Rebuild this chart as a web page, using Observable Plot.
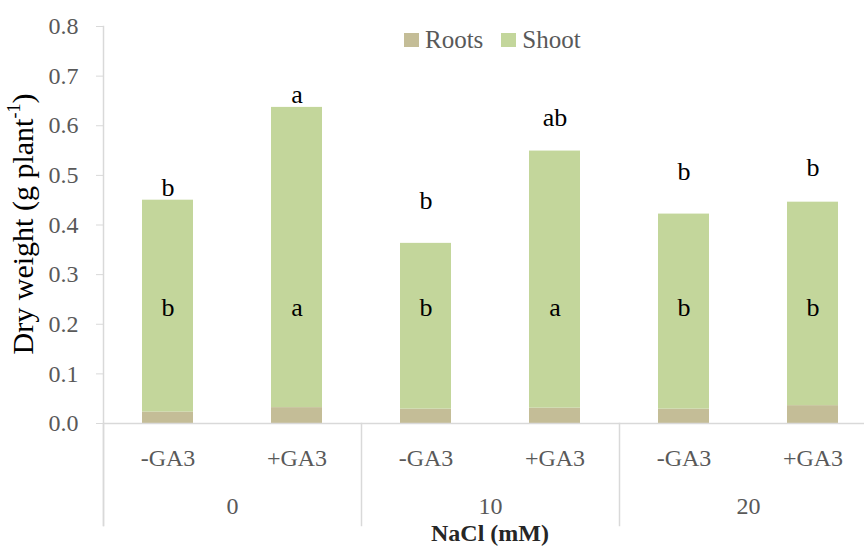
<!DOCTYPE html>
<html>
<head>
<meta charset="utf-8">
<script src="https://cdn.jsdelivr.net/npm/d3@7"></script>
<script src="https://cdn.jsdelivr.net/npm/@observablehq/plot@0.6"></script>
<style>
  html, body { margin: 0; padding: 0; background: #fff; overflow: hidden; }
  #wrap { position: relative; width: 864px; height: 546px; overflow: hidden; font-family: "Liberation Serif", serif; }
  #chart svg { max-width: none !important; }
  #legend { position: absolute; top: 26px; left: 404px; display: flex; align-items: center; font-size: 25px; color: #595959; line-height: 28px; }
  #legend .item { display: flex; align-items: center; margin-right: 18px; }
  #legend .sw { display: inline-block; width: 15px; height: 14px; margin-right: 6px; }
  #ylab { position: absolute; left: 23px; top: 224px; transform: translate(-50%, -50%) rotate(-90deg); white-space: nowrap; font-size: 30px; color: #000; }
  #ylab sup { font-size: 0.6em; vertical-align: 0.7em; line-height: 0; }
  #xlab { position: absolute; left: 490px; top: 521px; transform: translateX(-50%); white-space: nowrap; font-size: 24px; line-height: 24px; font-weight: bold; color: #262626; }
</style>
</head>
<body>
<div id="wrap">
  <div id="chart"></div>
  <div id="legend"></div>
  <div id="ylab">Dry weight (g plant<sup>-1</sup>)</div>
  <div id="xlab">NaCl (mM)</div>
</div>
<script>
// ---- data ----
const groups = ["0", "10", "20"];
const treatments = ["-GA3", "+GA3"];
const nacl = ["0", "0", "10", "10", "20", "20"];
const ga3 = ["-GA3", "+GA3", "-GA3", "+GA3", "-GA3", "+GA3"];
const roots = [0.023, 0.032, 0.029, 0.031, 0.029, 0.036];
const shoot = [0.427, 0.605, 0.334, 0.518, 0.393, 0.410];
const totalLetters = ["b", "a", "b", "ab", "b", "b"];
const totalLetterY = [0.476, 0.662, 0.449, 0.617, 0.508, 0.516];
const shootLetters = ["b", "a", "b", "a", "b", "b"];
const shootLetterY = [0.234, 0.234, 0.234, 0.234, 0.234, 0.234];
const series = ["Roots", "Shoot"];
const colors = ["#c4bd97", "#c3d69b"];
const yTicks = [0, 0.1, 0.2, 0.3, 0.4, 0.5, 0.6, 0.7, 0.8];

// ---- tables ----
const rows = [];
nacl.forEach((n, i) => {
  rows.push({nacl: n, ga3: ga3[i], part: "Roots", value: roots[i]});
  rows.push({nacl: n, ga3: ga3[i], part: "Shoot", value: shoot[i]});
});
const labels = nacl.map((n, i) => ({
  nacl: n, ga3: ga3[i],
  top: totalLetters[i], topY: totalLetterY[i],
  mid: shootLetters[i], midY: shootLetterY[i]
}));

// ---- layout ----
const W = 877, H = 546, mT = 26, mB = 123, mL = 103;
const grid = "#d9d9d9", tickText = "#595959", font = "Liberation Serif, serif";

const chart = Plot.plot({
  width: W, height: H,
  marginTop: mT, marginBottom: mB, marginLeft: mL, marginRight: 0,
  facet: {marginTop: 0, marginBottom: 0, marginLeft: 0, marginRight: 0},
  style: {fontFamily: font, background: "white", overflow: "visible", maxWidth: "none"},
  fx: {domain: groups, padding: 0, label: null},
  x: {domain: treatments, paddingInner: 0.605, paddingOuter: 0.3025, label: null},
  y: {domain: [0, 0.8], label: null},
  color: {domain: series, range: colors},
  marks: [
    Plot.barY(rows, Plot.stackY({fx: "nacl", x: "ga3", y: "value", fill: "part", order: series})),
    Plot.ruleY([0], {stroke: grid, strokeWidth: 1.5}),
    Plot.text(labels, {fx: "nacl", x: "ga3", y: "topY", text: "top", fill: "black", fontSize: 26, fontFamily: font, lineAnchor: "middle"}),
    Plot.text(labels, {fx: "nacl", x: "ga3", y: "midY", text: "mid", fill: "black", fontSize: 26, fontFamily: font, lineAnchor: "middle"}),
    Plot.axisY({ticks: yTicks, tickFormat: d => d.toFixed(1), tickSize: 7, tickPadding: 18, stroke: grid, fill: tickText, fontSize: 24, fontFamily: font, label: null}),
    Plot.axisX({tickSize: 0, tickPadding: 25, fill: tickText, fontSize: 24, fontFamily: font, label: null}),
    Plot.axisFx({anchor: "bottom", tickSize: 0, tickPadding: 73, fill: tickText, fontSize: 24, fontFamily: font, label: null}),
    Plot.frame({anchor: "left", facetAnchor: "left", stroke: grid, strokeWidth: 1.5, insetBottom: -102}),
    Plot.frame({anchor: "left", stroke: grid, strokeWidth: 1.5, insetTop: H - mT - mB, insetBottom: -102})
  ]
});
document.getElementById("chart").appendChild(chart);

// ---- legend ----
const legend = d3.select("#legend");
series.forEach((s, i) => {
  const item = legend.append("div").attr("class", "item");
  item.append("span").attr("class", "sw").style("background", colors[i]);
  item.append("span").text(s);
});
</script>
</body>
</html>
